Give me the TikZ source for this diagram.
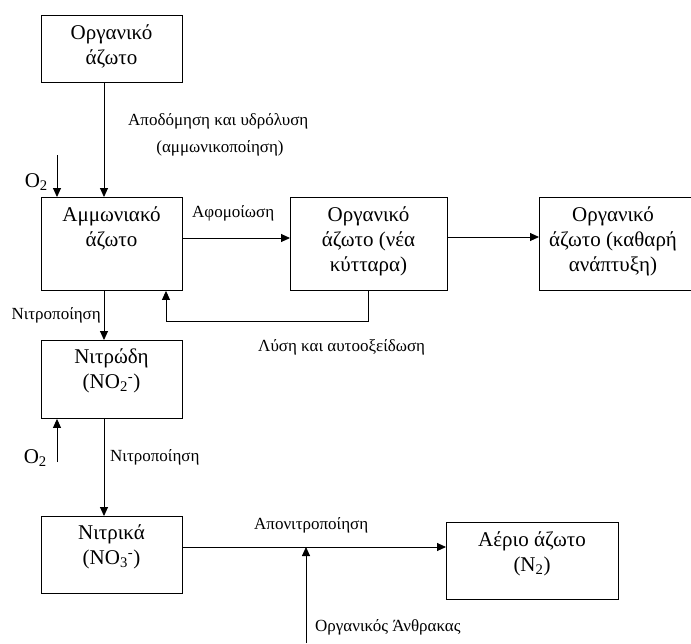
\documentclass[tikz,border=0pt]{standalone}
\usepackage{fontspec}
\setmainfont{Liberation Serif}
\usetikzlibrary{arrows.meta}
\begin{document}
\begin{tikzpicture}[x=1pt,y=-1pt,
  box/.style={draw,line width=0.9pt,inner sep=0pt,anchor=north west},
  btxt/.style={align=center,inner sep=0pt,font=\fontsize{21}{25}\selectfont},
  lbl/.style={inner sep=0pt,font=\fontsize{17}{19}\selectfont},
  arr/.style={draw,line width=0.9pt,-{Triangle[length=9pt,width=8pt]}},
  ln/.style={draw,line width=0.9pt}]
\useasboundingbox (0,0) rectangle (691,643);
% boxes
\node[box,minimum width=141pt,minimum height=67pt] (b1) at (41,15) {};
\node[btxt] (t1) at (111.5,46) {Οργανικό\\άζωτο};
\node[box,minimum width=141pt,minimum height=93pt] (b2) at (41,197) {};
\node[btxt] (t2) at (111.5,228) {Αμμωνιακό\\άζωτο};
\node[box,minimum width=157pt,minimum height=93pt] (b3) at (290,197) {};
\node[btxt] (t3) at (368.5,241) {Οργανικό\\άζωτο (νέα\\κύτταρα)};
\node[box,minimum width=152pt,minimum height=93pt] (b4) at (539,197) {};
\node[btxt] (t4) at (613,241) {Οργανικό\\άζωτο (καθαρή\\ανάπτυξη)};
\node[box,minimum width=141pt,minimum height=78pt] (b5) at (41,340) {};
\node[btxt] (t5) at (111.5,371) {Νιτρώδη\\(NO\textsubscript{2}\textsuperscript{-})};
\node[box,minimum width=141pt,minimum height=77pt] (b6) at (41,516) {};
\node[btxt] (t6) at (111.5,547) {Νιτρικά\\(NO\textsubscript{3}\textsuperscript{-})};
\node[box,minimum width=172pt,minimum height=77pt] (b7) at (446,522) {};
\node[btxt] (t7) at (532,554) {Αέριο άζωτο\\(N\textsubscript{2})};
% coordinates
\coordinate (o2a) at (57,155);
\coordinate (o2b) at (57,462);
\coordinate (c1) at (306,643);
\coordinate (j1) at (306,547);
\coordinate (fb1) at (368,321);
\coordinate (fb2) at (166,321);
% connectors
\draw[arr] (b1.south -| 104,0) -- (b2.north -| 104,0);
\draw[arr] (o2a) -- (o2a |- b2.north);
\draw[arr] (b2.east |- 0,238) -- (b3.west |- 0,238);
\draw[arr] (b3.east |- 0,237) -- (b4.west |- 0,237);
\draw[arr] (fb1 |- b3.south) -- (fb1) -- (fb2) -- (fb2 |- b2.south);
\draw[arr] (b2.south -| 104,0) -- (b5.north -| 104,0);
\draw[arr] (o2b) -- (o2b |- b5.south);
\draw[arr] (b5.south -| 104,0) -- (b6.north -| 104,0);
\draw[arr] (b6.east |- j1) -- (b7.west |- j1);
\draw[arr] (c1) -- (j1);
% labels
\node[lbl,anchor=west] (l1) at (128,121) {Αποδόμηση και υδρόλυση};
\node[lbl] (l2) at (220,148) {(αμμωνικοποίηση)};
\node[btxt,anchor=east] (lo1) at (48,182) {O\textsubscript{2}};
\node[lbl,anchor=west] (l3) at (192,213) {Αφομοίωση};
\node[lbl,anchor=east] (l4) at (101,315) {Νιτροποίηση};
\node[lbl,anchor=west] (l5) at (258,347) {Λύση και αυτοοξείδωση};
\node[btxt,anchor=east] (lo2) at (47,458) {O\textsubscript{2}};
\node[lbl,anchor=west] (l6) at (110,457) {Νιτροποίηση};
\node[lbl,anchor=west] (l7) at (254,525) {Απονιτροποίηση};
\node[lbl,anchor=west] (l8) at (315,627) {Οργανικός Άνθρακας};
\end{tikzpicture}
\end{document}
